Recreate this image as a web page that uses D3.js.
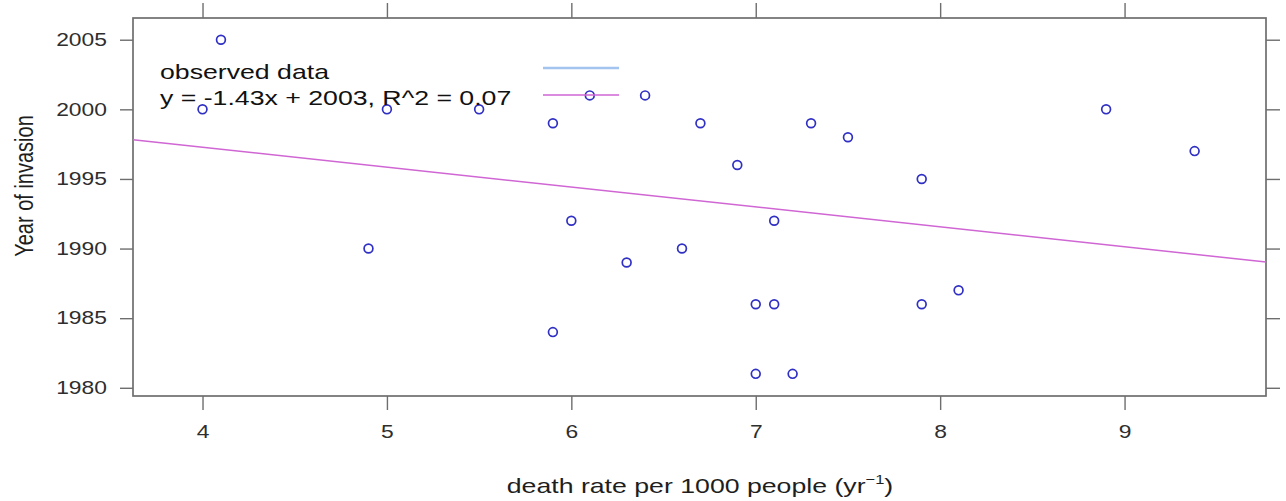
<!DOCTYPE html>
<html>
<head>
<meta charset="utf-8">
<script src="https://cdn.jsdelivr.net/npm/d3@7"></script>
<style>
  body { margin: 0; background: #fff; }
  svg { display: block; font-family: Arial, 'Liberation Sans', sans-serif; }
</style>
</head>
<body>
<script>
// death rate per 1000 people vs year of invasion
const deathRate = [4.0, 4.1, 4.9, 5.0, 5.5, 5.9, 5.9, 6.0, 6.1, 6.3, 6.4, 6.6, 6.7,
  6.9, 7.0, 7.0, 7.1, 7.1, 7.2, 7.3, 7.5, 7.9, 7.9, 8.1, 8.9, 9.38]
const invasionYear = [2000, 2005, 1990, 2000, 2000, 1999, 1984, 1992, 2001, 1989, 2001, 1990, 1999,
  1996, 1986, 1981, 1992, 1986, 1981, 1999, 1998, 1995, 1986, 1987, 2000, 1997]

const fitSlope = -1.43
const fitIntercept = 2003

const xTicks = [4, 5, 6, 7, 8, 9]
const yTicks = [1980, 1985, 1990, 1995, 2000, 2005]
const xDomain = [3.623, 9.767]
const yDomain = [1979.41, 2006.56]

const legendLabels = ['observed data', 'y = -1.43x + 2003, R^2 = 0.07']
const legendColors = ['#a3c4ee', '#d066d4']

const width = 1286
const height = 501
const frame = { left: 133, top: 18, right: 1266, bottom: 396 }
const stretch = 1.27 // the source picture is widened a little

const svg = d3.select('body').append('svg')
  .attr('width', width)
  .attr('height', height)

const x = d3.scaleLinear().domain(xDomain).range([frame.left, frame.right])
const y = d3.scaleLinear().domain(yDomain).range([frame.bottom, frame.top])

const axisColor = '#6e6e6e'

function styleAxis (g) {
  g.select('.domain').remove()
  g.selectAll('.tick line').attr('stroke', axisColor).attr('stroke-width', 1.4)
}

// bottom axis with labels
svg.append('g')
  .attr('transform', `translate(0,${frame.bottom})`)
  .call(d3.axisBottom(x).tickValues(xTicks).tickSize(14).tickPadding(15).tickFormat(d3.format('d')))
  .call(styleAxis)
  .call(g => g.selectAll('text')
    .attr('font-size', 18)
    .attr('fill', '#2e2e2e')
    .attr('font-family', null)
    .attr('transform', `scale(${stretch},1)`))

// top axis, ticks only
svg.append('g')
  .attr('transform', `translate(0,${frame.top})`)
  .call(d3.axisTop(x).tickValues(xTicks).tickSize(15).tickFormat(''))
  .call(styleAxis)

// left axis with labels
svg.append('g')
  .attr('transform', `translate(${frame.left},0)`)
  .call(d3.axisLeft(y).tickValues(yTicks).tickSize(13).tickFormat(d3.format('d')))
  .call(styleAxis)
  .call(g => g.selectAll('text')
    .attr('x', null)
    .attr('font-size', 18)
    .attr('fill', '#2e2e2e')
    .attr('font-family', null)
    .attr('transform', `translate(-26,0) scale(${stretch},1)`))

// right axis, ticks only
svg.append('g')
  .attr('transform', `translate(${frame.right},0)`)
  .call(d3.axisRight(y).tickValues(yTicks).tickSize(14).tickFormat(''))
  .call(styleAxis)

// panel frame
svg.append('rect')
  .attr('x', frame.left)
  .attr('y', frame.top)
  .attr('width', frame.right - frame.left)
  .attr('height', frame.bottom - frame.top)
  .attr('fill', 'none')
  .attr('stroke', axisColor)
  .attr('stroke-width', 1.7)

// regression line across the panel
svg.append('line')
  .attr('x1', x(xDomain[0]))
  .attr('y1', y(fitSlope * xDomain[0] + fitIntercept))
  .attr('x2', x(xDomain[1]))
  .attr('y2', y(fitSlope * xDomain[1] + fitIntercept))
  .attr('stroke', legendColors[1])
  .attr('stroke-width', 1.5)

// observed points
svg.append('g')
  .selectAll('circle')
  .data(deathRate.map((d, i) => ({ x: d, y: invasionYear[i] })))
  .join('circle')
  .attr('cx', d => x(d.x))
  .attr('cy', d => y(d.y))
  .attr('r', 4.4)
  .attr('fill', 'none')
  .attr('stroke', '#3030c4')
  .attr('stroke-width', 1.7)

// legend
const legend = svg.append('g')
legend.selectAll('text')
  .data(legendLabels)
  .join('text')
  .attr('transform', (d, i) => `translate(160,${79 + i * 26}) scale(${stretch},1)`)
  .attr('font-size', 21)
  .attr('fill', '#111')
  .text(d => d)

legend.selectAll('line')
  .data(legendColors)
  .join('line')
  .attr('x1', 543)
  .attr('x2', 619)
  .attr('y1', (d, i) => 68 + i * 27)
  .attr('y2', (d, i) => 68 + i * 27)
  .attr('stroke', d => d)
  .attr('stroke-width', (d, i) => i === 0 ? 2.6 : 1.5)

// axis titles
const xTitle = svg.append('text')
  .attr('transform', `translate(700,493) scale(${stretch},1)`)
  .attr('text-anchor', 'middle')
  .attr('font-size', 21)
  .attr('fill', '#1e1e1e')
xTitle.append('tspan').text('death rate per 1000 people (yr')
xTitle.append('tspan').attr('font-size', 13).attr('dy', -9).text('−1')
xTitle.append('tspan').attr('dy', 9).text(')')

svg.append('text')
  .attr('transform', `translate(33,186) scale(${stretch},1) rotate(-90)`)
  .attr('text-anchor', 'middle')
  .attr('font-size', 20)
  .attr('fill', '#1e1e1e')
  .text('Year of invasion')
</script>
</body>
</html>
